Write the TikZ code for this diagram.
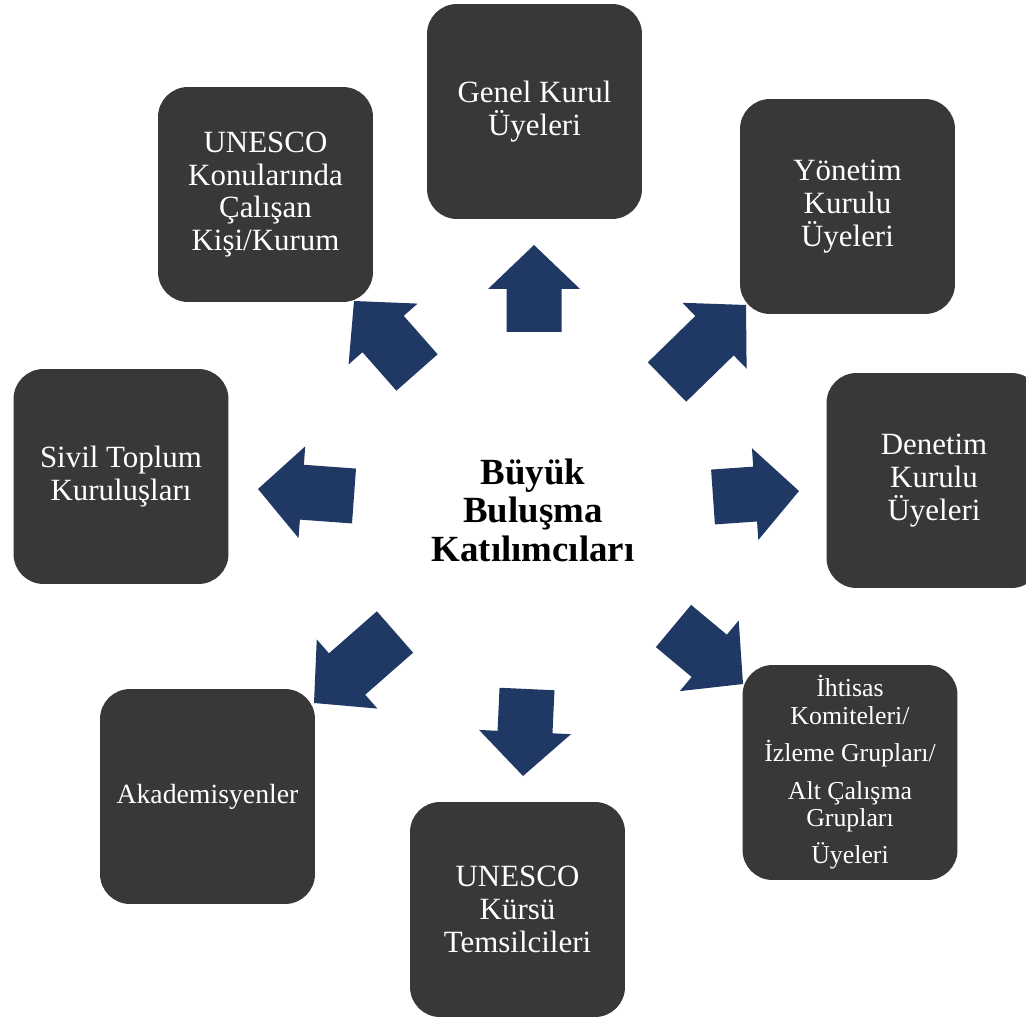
\documentclass[tikz,border=0pt]{standalone}
\usepackage{fontspec}
\setmainfont{Liberation Serif}
\usetikzlibrary{calc}

\definecolor{boxgrey}{HTML}{3A3836}
\definecolor{arrowblue}{HTML}{1F3864}

\newcommand\boxtextstyle{\fontsize{17.6pt}{18.6pt}\selectfont}
\newcommand\hubtextstyle{\fontsize{21pt}{21.9pt}\selectfont\bfseries}
% block arrow from base #1 to tip #2
\newcommand\blockarrow[2]{
  \coordinate (#1-neck) at ($(#2)!0.88cm!(#1)$);
  \fill[arrowblue] ($(#1)!0.55cm!90:(#2)$) -- ($(#1-neck)!0.55cm!90:(#2)$)
    -- ($(#1-neck)!0.92cm!90:(#2)$) -- (#2) -- ($(#1-neck)!0.92cm!-90:(#2)$)
    -- ($(#1-neck)!0.55cm!-90:(#2)$) -- ($(#1)!0.55cm!-90:(#2)$) -- cycle ;
}

\tikzset{
  member/.style={rectangle, rounded corners=0.6cm, fill=boxgrey, text=white,
    minimum width=4.3cm, minimum height=4.3cm, align=center, inner sep=2pt,
    font=\boxtextstyle},
  hubnode/.style={circle, fill=white, minimum size=7cm, align=center,
    font=\hubtextstyle}
}

\begin{document}
\begin{tikzpicture}[x=0.02cm, y=-0.02cm]
  \useasboundingbox[fill=white] (0,0) rectangle (1026,1016) ;
  \node[hubnode] (hub) at (533,510) {Büyük\\Buluşma\\Katılımcıları} ;
  % outer boxes
  \node[member] (genel) at (534.5,111.5) {Genel Kurul\\Üyeleri} ;
  \node[member] (yonetim) at (847.5,206.5) {Yönetim\\Kurulu\\Üyeleri} ;
  \node[member] (denetim) at (934,480.5) {Denetim\\Kurulu\\Üyeleri} ;
  \node[member, font=\fontsize{14.7pt}{15.6pt}\selectfont] (ihtisas) at (850,772.5)
    {İhtisas\\Komiteleri/\\[5.7pt]İzleme Grupları/\\[5.7pt]Alt Çalışma\\Grupları\\[5.7pt]Üyeleri} ;
  \node[member] (kursu) at (517.5,909.5) {UNESCO\\Kürsü\\Temsilcileri} ;
  \node[member, font=\fontsize{15.8pt}{16.6pt}\selectfont] (akademi) at (207.5,796.5) {Akademisyenler} ;
  \node[member] (sivil) at (121,476.5) {Sivil Toplum\\Kuruluşları} ;
  \node[member] (unesco) at (265.5,194.5) {UNESCO\\Konularında\\Çalışan\\Kişi/Kurum} ;
  % arrows
  \coordinate (genel-a) at (534,332) ;   \coordinate (genel-b) at (534,245) ;
  \coordinate (yonetim-a) at (667,382) ; \coordinate (yonetim-b) at (746,305) ;
  \coordinate (denetim-a) at (713,497) ; \coordinate (denetim-b) at (799,491) ;
  \coordinate (ihtisas-a) at (673.5,626) ; \coordinate (ihtisas-b) at (743,684) ;
  \coordinate (kursu-a) at (527,689) ;   \coordinate (kursu-b) at (523,776) ;
  \coordinate (akademi-a) at (395,632) ; \coordinate (akademi-b) at (314,703) ;
  \coordinate (sivil-a) at (354,496) ;   \coordinate (sivil-b) at (258,489) ;
  \coordinate (unesco-a) at (417,372.5) ; \coordinate (unesco-b) at (354,301) ;
  \blockarrow{genel-a}{genel-b}
  \blockarrow{yonetim-a}{yonetim-b}
  \blockarrow{denetim-a}{denetim-b}
  \blockarrow{ihtisas-a}{ihtisas-b}
  \blockarrow{kursu-a}{kursu-b}
  \blockarrow{akademi-a}{akademi-b}
  \blockarrow{sivil-a}{sivil-b}
  \blockarrow{unesco-a}{unesco-b}
\end{tikzpicture}
\end{document}
